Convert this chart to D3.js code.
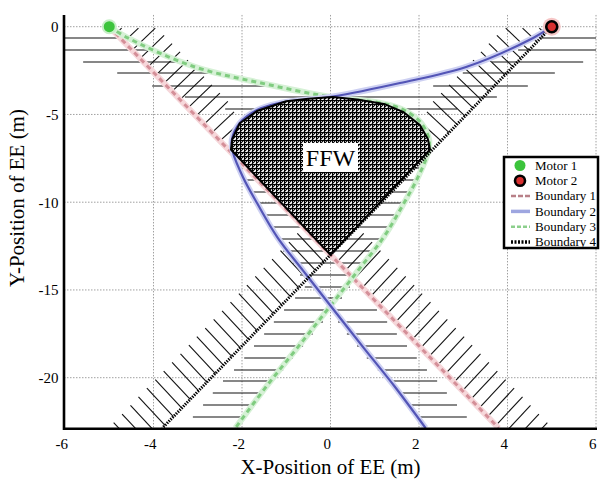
<!DOCTYPE html>
<html>
<head>
<meta charset="utf-8">
<script src="https://cdn.jsdelivr.net/npm/d3@7"></script>
<style>
  body { margin: 0; background: #fff; }
  text { font-family: "Liberation Serif", "Times New Roman", serif; fill: #000; }
</style>
</head>
<body>
<svg></svg>
<script>
// ---- data (metres) ----
let xTicks = [-6, -4, -2, 0, 2, 4, 6],
    yTicks = [0, -5, -10, -15, -20];

let motor1 = [-5, 0],
    motor2 = [5, 0];

let boundary1 = [[-5, 0], [0, -13], [3.8, -22.87]],
    boundary4 = [[5, 0], [0, -13], [-3.8, -22.87]];

let boundary2 = [[5, 0], [4.58, -0.64], [3.08, -2.28], [1.57, -3.21], [0.05, -3.98], [-1.21, -4.38],
                 [-1.66, -4.75], [-2.05, -5.49], [-2.23, -6.46], [-2.2, -7.2], [-1.98, -8.56],
                 [-1.66, -10.05], [-1.2, -12.0], [-0.62, -13.9], [0.0, -15.9], [0.75, -18.3],
                 [1.45, -20.5], [2.15, -22.87]];
let boundary3 = [[-5, 0], [-4.58, -0.64], [-3.08, -2.28], [-1.57, -3.21], [-0.05, -3.98], [1.21, -4.38],
                 [1.66, -4.75], [2.05, -5.49], [2.23, -6.46], [2.2, -7.2], [1.98, -8.56],
                 [1.66, -10.05], [1.2, -12.0], [0.62, -13.9], [0.0, -15.9], [-0.75, -18.3],
                 [-1.45, -20.5], [-2.15, -22.87]];

let ffwRegion = [[0.05, -4.0], [0.6, -4.15], [1.21, -4.4], [1.64, -4.85], [2.02, -5.6], [2.2, -6.4],
                 [2.25, -7.0], [0, -13.0], [-2.25, -7.0], [-2.22, -6.4], [-2.05, -5.5],
                 [-1.66, -4.8], [-1.0, -4.25], [-0.5, -4.1]];

// horizontal hatch rows: [y, xFrom, xTo]
let hatchRows = [
  [-0.644, -6.0, -4.71], [-1.328, -6.0, -3.90], [-2.011, -5.59, -3.22], [-2.638, -4.82, -2.38],
  [-3.379, -4.03, -1.37], [-4.006, -3.29, 3.76], [-4.689, -2.38, 2.86],
  [-0.644, 4.73, 6.0], [-1.328, 4.24, 6.0], [-2.011, 3.65, 5.71], [-2.638, 2.99, 5.07], [-3.379, 2.32, 4.46],
  [-8.051, -2.09, 2.07], [-8.735, -1.98, 1.98], [-9.419, -1.82, 1.84], [-10.046, -1.66, 1.68],
  [-10.729, -1.53, 1.53], [-11.413, -1.41, 1.39], [-12.097, -1.21, 1.23], [-12.781, -1.07, 1.05],
  [-13.464, -0.85, 0.82], [-14.148, -0.69, 0.62], [-14.832, -0.58, 0.44],
  [-15.459, -0.80, 0.26], [-16.143, -1.05, 1.05], [-16.826, -1.28, -0.17], [-17.510, -1.50, -0.40],
  [-18.194, -1.73, -0.62], [-18.877, -1.95, -0.85], [-19.561, -2.18, -1.07], [-20.188, -2.43, -1.30],
  [-20.872, -2.66, -1.53], [-21.556, -2.88, -1.75], [-22.239, -3.11, -1.98],
  [-16.826, 0.17, 1.28], [-17.510, 0.37, 1.50], [-18.194, 0.60, 1.73], [-18.877, 0.82, 1.95],
  [-19.561, 1.07, 2.18], [-20.188, 1.28, 2.41], [-20.872, 1.50, 2.63], [-21.556, 1.75, 2.86],
  [-22.239, 1.98, 3.08]
];

// slanted hatch strokes: [x1, y1, x2, y2]
let hatchUpperLeft = [
  [-4.85, -0.40, -4.72, -0.08], [-4.67, -0.87, -4.34, -0.08], [-4.48, -1.34, -3.96, -0.08],
  [-4.30, -1.81, -3.76, -0.50], [-4.12, -2.28, -3.58, -0.97], [-3.94, -2.75, -3.40, -1.44],
  [-3.76, -3.22, -3.22, -1.91], [-3.58, -3.69, -3.04, -2.38], [-3.40, -4.16, -2.86, -2.85],
  [-3.22, -4.63, -2.68, -3.32], [-3.04, -5.10, -2.50, -3.79], [-2.86, -5.57, -2.32, -4.26],
  [-2.68, -6.04, -2.18, -4.85], [-2.50, -6.51, -2.10, -5.60]
];
let hatchUpperRight = [
  [4.85, -0.40, 4.72, -0.08], [4.67, -0.87, 4.34, -0.08], [4.48, -1.34, 3.96, -0.08],
  [4.30, -1.81, 3.76, -0.50], [4.12, -2.28, 3.58, -0.97], [3.94, -2.75, 3.40, -1.44],
  [3.76, -3.22, 3.22, -1.91], [3.58, -3.69, 3.04, -2.38], [3.40, -4.16, 2.86, -2.85],
  [3.22, -4.63, 2.68, -3.32], [3.04, -5.10, 2.50, -3.79], [2.86, -5.57, 2.32, -4.26],
  [2.68, -6.04, 2.18, -4.85], [2.50, -6.51, 2.10, -5.60]
];
let hatchLowerLeft = [
  [0.03, -12.92, -0.57, -11.30], [-0.15, -13.40, -0.75, -11.78], [-0.34, -13.89, -0.94, -12.27],
  [-0.53, -14.38, -1.13, -12.76], [-0.72, -14.87, -1.32, -13.25], [-0.91, -15.36, -1.51, -13.74],
  [-1.10, -15.85, -1.70, -14.23], [-1.29, -16.34, -1.89, -14.72], [-1.47, -16.83, -2.07, -15.21],
  [-1.66, -17.32, -2.26, -15.70], [-1.85, -17.81, -2.45, -16.19], [-2.04, -18.30, -2.64, -16.68],
  [-2.23, -18.79, -2.83, -17.17], [-2.42, -19.28, -3.02, -17.66], [-2.60, -19.77, -3.20, -18.15],
  [-2.79, -20.26, -3.39, -18.64], [-2.98, -20.75, -3.58, -19.13], [-3.17, -21.24, -3.77, -19.62],
  [-3.36, -21.73, -3.96, -20.11], [-3.55, -22.22, -4.15, -20.60], [-3.74, -22.71, -4.34, -21.09],
  [-3.92, -23.20, -4.52, -21.58], [-4.11, -23.69, -4.71, -22.07], [-4.30, -24.18, -4.90, -22.56]
];
let hatchLowerRight = [
  [-0.03, -12.92, 0.57, -11.30], [0.15, -13.40, 0.75, -11.78], [0.34, -13.89, 0.94, -12.27],
  [0.53, -14.38, 1.13, -12.76], [0.72, -14.87, 1.32, -13.25], [0.91, -15.36, 1.51, -13.74],
  [1.10, -15.85, 1.70, -14.23], [1.29, -16.34, 1.89, -14.72], [1.47, -16.83, 2.07, -15.21],
  [1.66, -17.32, 2.26, -15.70], [1.85, -17.81, 2.45, -16.19], [2.04, -18.30, 2.64, -16.68],
  [2.23, -18.79, 2.83, -17.17], [2.42, -19.28, 3.02, -17.66], [2.60, -19.77, 3.20, -18.15],
  [2.79, -20.26, 3.39, -18.64], [2.98, -20.75, 3.58, -19.13], [3.17, -21.24, 3.77, -19.62],
  [3.36, -21.73, 3.96, -20.11], [3.55, -22.22, 4.15, -20.60], [3.74, -22.71, 4.34, -21.09],
  [3.92, -23.20, 4.52, -21.58], [4.11, -23.69, 4.71, -22.07], [4.30, -24.18, 4.90, -22.56]
];

let legendLabels = ["Motor 1", "Motor 2", "Boundary 1", "Boundary 2", "Boundary 3", "Boundary 4"];

// ---- layout ----
let width = 600, height = 483,
    xScale = d3.scaleLinear().domain([-6, 6]).range([65, 596]),
    yScale = d3.scaleLinear().domain([0, -20]).range([26.7, 377.7]),
    yMax = 0.67, yMin = -22.87,
    plotLeft = 64, plotRight = 597, plotTop = yScale(yMax), plotBottom = yScale(yMin);

let svg = d3.select("svg")
            .attr("width", width)
            .attr("height", height);

let defs = svg.append("defs");
defs.append("clipPath").attr("id", "plot")
    .append("rect")
    .attr("x", plotLeft).attr("y", plotTop)
    .attr("width", plotRight - plotLeft).attr("height", plotBottom - plotTop);
defs.append("filter").attr("id", "soft")
    .append("feGaussianBlur").attr("stdDeviation", 0.6);

let mesh = defs.append("pattern").attr("id", "mesh")
    .attr("patternUnits", "userSpaceOnUse")
    .attr("width", 4).attr("height", 4);
mesh.append("rect").attr("width", 4).attr("height", 4).attr("fill", "white");
mesh.append("path")
    .attr("d", "M0,0.5H4M0.5,0V4M0,4L4,0M-1,1L1,-1M3,5L5,3")
    .attr("stroke", "black").attr("stroke-width", 1.1);

// grid
let grid = svg.append("g");
grid.selectAll(".gx").data(xTicks.slice(1)).enter().append("line")
    .attr("x1", d => xScale(d)).attr("x2", d => xScale(d))
    .attr("y1", plotTop).attr("y2", plotBottom)
    .attr("stroke", "#a0a0a0").attr("stroke-width", 1).attr("stroke-dasharray", "1.5,1.5");
grid.selectAll(".gy").data(yTicks).enter().append("line")
    .attr("x1", plotLeft).attr("x2", plotRight)
    .attr("y1", d => yScale(d)).attr("y2", d => yScale(d))
    .attr("stroke", "#a0a0a0").attr("stroke-width", 1).attr("stroke-dasharray", "1.5,1.5");

let plot = svg.append("g").attr("clip-path", "url(#plot)");

// hatching
plot.append("g").selectAll("line").data(hatchRows).enter().append("line")
    .attr("x1", d => xScale(d[1])).attr("x2", d => xScale(d[2]))
    .attr("y1", d => yScale(d[0])).attr("y2", d => yScale(d[0]))
    .attr("stroke", "#111").attr("stroke-width", 1.1);

plot.append("g").selectAll("line")
    .data(hatchUpperLeft.concat(hatchUpperRight, hatchLowerLeft, hatchLowerRight))
    .enter().append("line")
    .attr("x1", d => xScale(d[0])).attr("y1", d => yScale(d[1]))
    .attr("x2", d => xScale(d[2])).attr("y2", d => yScale(d[3]))
    .attr("stroke", "#111").attr("stroke-width", 1.1);

// boundaries
let straight = d3.line().x(d => xScale(d[0])).y(d => yScale(d[1])),
    smooth = d3.line().x(d => xScale(d[0])).y(d => yScale(d[1])).curve(d3.curveCatmullRom);

let colored = plot.append("g").attr("filter", "url(#soft)").attr("fill", "none");
colored.append("path").attr("d", straight(boundary1))
    .attr("stroke", "#f6d7da").attr("stroke-width", 6);
colored.append("path").attr("d", straight(boundary1))
    .attr("stroke", "#d48f98").attr("stroke-width", 3).attr("stroke-dasharray", "5,4");
colored.append("path").attr("d", smooth(boundary3))
    .attr("stroke", "#d6f1d6").attr("stroke-width", 6);
colored.append("path").attr("d", smooth(boundary3))
    .attr("stroke", "#80cc80").attr("stroke-width", 3).attr("stroke-dasharray", "5,4");
colored.append("path").attr("d", smooth(boundary2))
    .attr("stroke", "#cdd0f2").attr("stroke-width", 6);
colored.append("path").attr("d", smooth(boundary2))
    .attr("stroke", "#5254b6").attr("stroke-width", 2.2);

// feasible force workspace
plot.append("path")
    .attr("d", straight(ffwRegion) + "Z")
    .attr("fill", "url(#mesh)")
    .attr("stroke", "black").attr("stroke-width", 2).attr("stroke-linejoin", "round");

plot.append("path").attr("d", straight(boundary4))
    .attr("fill", "none").attr("stroke", "black")
    .attr("stroke-width", 3).attr("stroke-dasharray", "1.4,1.2");

plot.append("rect")
    .attr("x", xScale(0) - 27.5).attr("y", yScale(-7.45) - 14.5)
    .attr("width", 55).attr("height", 29).attr("fill", "white");
plot.append("text")
    .attr("x", xScale(0)).attr("y", yScale(-7.45))
    .attr("dy", "0.35em")
    .style("text-anchor", "middle").style("font-size", "24px")
    .text("FFW");

// motors
plot.append("circle").attr("cx", xScale(motor1[0])).attr("cy", yScale(motor1[1]))
    .attr("r", 7.5).attr("fill", "#c8efc8").attr("filter", "url(#soft)");
plot.append("circle").attr("cx", xScale(motor1[0])).attr("cy", yScale(motor1[1]))
    .attr("r", 5.5).attr("fill", "#3cc43c");
plot.append("circle").attr("cx", xScale(motor2[0])).attr("cy", yScale(motor2[1]))
    .attr("r", 9).attr("fill", "#f6c6c6").attr("filter", "url(#soft)");
plot.append("circle").attr("cx", xScale(motor2[0])).attr("cy", yScale(motor2[1]))
    .attr("r", 5.5).attr("fill", "#d83030").attr("stroke", "black").attr("stroke-width", 2.6);

// axes
let xAxis = d3.axisBottom(xScale).tickValues(xTicks).tickSize(0).tickPadding(10).tickFormat(d => String(d)),
    yAxis = d3.axisLeft(yScale).tickValues(yTicks).tickSize(0).tickPadding(5.5).tickFormat(d => String(d));

let gx = svg.append("g").attr("transform", `translate(0,${plotBottom + 0.7})`).call(xAxis);
let gy = svg.append("g").attr("transform", `translate(${plotLeft},0)`).call(yAxis);
[gx, gy].forEach(g => {
  g.attr("font-family", "Liberation Serif").attr("font-size", 15);
  g.select(".domain").remove();
  g.selectAll("text").style("font-family", "Liberation Serif").style("font-size", "15px");
});
gx.selectAll("text").attr("dx", "-0.25em");

svg.append("line").attr("x1", plotLeft).attr("x2", plotLeft).attr("y1", plotTop).attr("y2", plotBottom + 2)
    .attr("stroke", "black").attr("stroke-width", 2.6);
svg.append("line").attr("x1", plotLeft - 1).attr("x2", plotRight).attr("y1", plotBottom + 0.7).attr("y2", plotBottom + 0.7)
    .attr("stroke", "black").attr("stroke-width", 2.6);

svg.append("text")
    .attr("x", xScale(0)).attr("y", 474)
    .style("text-anchor", "middle").style("font-size", "21px")
    .text("X-Position of EE (m)");
svg.append("text")
    .attr("transform", "translate(24,198) rotate(-90)")
    .style("text-anchor", "middle").style("font-size", "21px")
    .text("Y-Position of EE (m)");

// legend
let legend = svg.append("g").attr("transform", "translate(504,157)");
legend.append("rect").attr("width", 94).attr("height", 91)
    .attr("fill", "white").attr("stroke", "black").attr("stroke-width", 2.5);
let rowY = d3.scalePoint().domain(legendLabels).range([8.5, 85]);
let items = legend.selectAll(".item").data(legendLabels).enter().append("g")
    .attr("transform", d => `translate(0,${rowY(d)})`);
items.append("text").attr("x", 31).attr("dy", "0.33em")
    .style("font-size", "13px").text(d => d);

let sym = legend.append("g");
sym.append("circle").attr("cx", 16).attr("cy", rowY("Motor 1")).attr("r", 5.5).attr("fill", "#3cc43c");
sym.append("circle").attr("cx", 16).attr("cy", rowY("Motor 2")).attr("r", 5)
    .attr("fill", "#d83030").attr("stroke", "black").attr("stroke-width", 2.6);
sym.append("line").attr("x1", 7).attr("x2", 26).attr("y1", rowY("Boundary 1")).attr("y2", rowY("Boundary 1"))
    .attr("stroke", "#b88088").attr("stroke-width", 2.5).attr("stroke-dasharray", "5,2");
sym.append("line").attr("x1", 7).attr("x2", 26).attr("y1", rowY("Boundary 2")).attr("y2", rowY("Boundary 2"))
    .attr("stroke", "#9ea6e0").attr("stroke-width", 3.5);
sym.append("line").attr("x1", 7).attr("x2", 26).attr("y1", rowY("Boundary 3")).attr("y2", rowY("Boundary 3"))
    .attr("stroke", "#8ccf8c").attr("stroke-width", 2.5).attr("stroke-dasharray", "4,2");
sym.append("line").attr("x1", 7).attr("x2", 26).attr("y1", rowY("Boundary 4")).attr("y2", rowY("Boundary 4"))
    .attr("stroke", "black").attr("stroke-width", 3.5).attr("stroke-dasharray", "2,1.5");
</script>
</body>
</html>
